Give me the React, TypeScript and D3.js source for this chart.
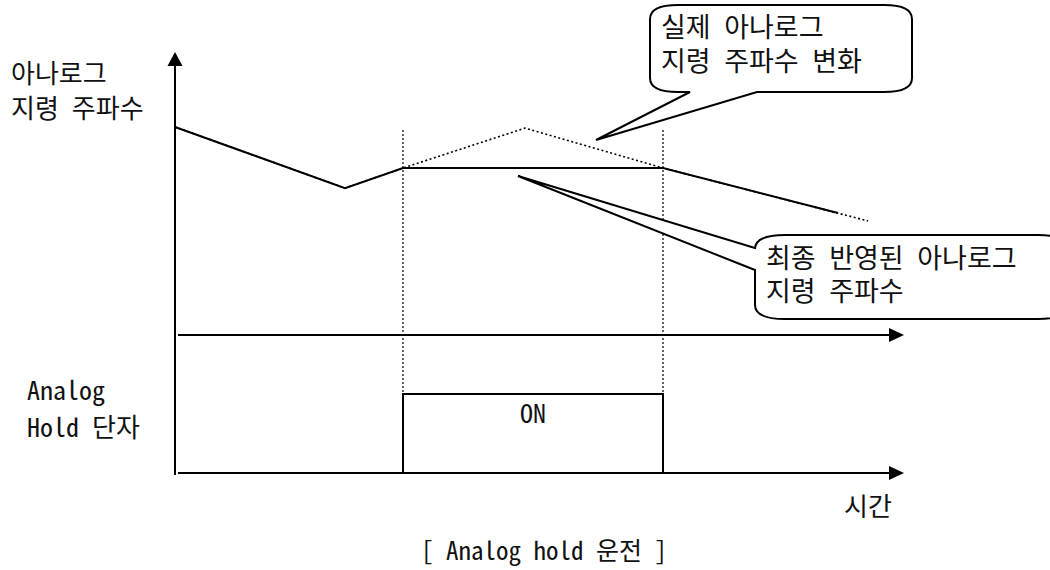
import React from 'react';
import * as d3 from 'd3';

// time axis and the two frequency traces
const finalTime = [0, 170, 228, 488, 663];
const finalFreq = [73.5, 51.9, 59.0, 59.0, 43.1];
const actualTime = [0, 170, 228, 350, 488, 693];
const actualFreq = [73.5, 51.9, 59.0, 73.1, 59.0, 40.3];
const holdOn = [228, 488];
const holdMarkers = [228, 488];

const freqLabel = ['아나로그', '지령 주파수'];
const holdLabel = ['Analog', 'Hold 단자'];
const callout1Text = ['실제 아나로그', '지령 주파수 변화'];
const callout2Text = ['최종 반영된 아나로그', '지령 주파수'];
const onText = 'ON';
const timeLabel = '시간';
const caption = '[ Analog hold 운전 ]';

const W = 1050;
const H = 570;
const FONT = "'Noto Sans Mono CJK KR', 'Noto Sans CJK KR', sans-serif";

export default function App() {
  const x = d3.scaleLinear().domain([0, 730]).range([175, 905]);
  const yF = d3.scaleLinear().domain([0, 100]).range([335, 52]);
  const yH = d3.scaleLinear().domain([0, 1]).range([473, 394]);

  const line = d3.line<[number, number]>()
    .x(d => x(d[0]))
    .y(d => yF(d[1]));

  const finalPts = finalTime.map((t, i) => [t, finalFreq[i]] as [number, number]);
  const actualPts = actualTime.map((t, i) => [t, actualFreq[i]] as [number, number]);

  const axisX = x(0);
  const yTop = 52;
  const midY = yF(0);
  const botY = yH(0);
  const tipX = 904;

  const callout1 = 'M 678,5 H 884 Q 912,5 912,19 V 78 Q 912,92 884,92 H 757 L 596,140 L 690,92 H 678 Q 650,92 650,78 V 19 Q 650,5 678,5 Z';
  const callout2 = 'M 785,235 H 1038 Q 1068,235 1068,249 V 305 Q 1068,319 1038,319 H 785 Q 755,319 755,305 V 270 L 518,176 L 755,248 V 249 Q 755,235 785,235 Z';

  return (
    <svg width={W} height={H} style={{ position: 'absolute', left: 0, top: 0, background: '#fff' }}
      fontFamily={FONT} fill="#111">
      {/* hold markers */}
      {holdMarkers.map((t, i) => (
        <line key={i} x1={x(t)} x2={x(t)} y1={130} y2={yH(1)} stroke="#000" strokeWidth={1.2}
          strokeDasharray="2,2" />
      ))}

      {/* actual reference (dotted) */}
      <path d={line(actualPts) || ''} fill="none" stroke="#000" strokeWidth={1.6} strokeDasharray="2,2.5" />
      {/* final reference (solid) */}
      <path d={line(finalPts) || ''} fill="none" stroke="#000" strokeWidth={2} />

      {/* y axis */}
      <line x1={axisX} x2={axisX} y1={yTop + 12} y2={botY + 2} stroke="#000" strokeWidth={2} />
      <path d={`M ${axisX},${yTop} L ${axisX + 7.5},${yTop + 14} L ${axisX - 7.5},${yTop + 14} Z`} fill="#000" />

      {/* horizontal axes */}
      {[midY, botY].map((yy, i) => (
        <g key={i}>
          <line x1={axisX + 3} x2={tipX - 12} y1={yy} y2={yy} stroke="#000" strokeWidth={2} />
          <path d={`M ${tipX},${yy} L ${tipX - 15},${yy - 7} L ${tipX - 15},${yy + 7} Z`} fill="#000" />
        </g>
      ))}

      {/* hold signal */}
      <rect x={x(holdOn[0])} y={yH(1)} width={x(holdOn[1]) - x(holdOn[0])} height={yH(0) - yH(1)}
        fill="none" stroke="#000" strokeWidth={2} />
      <text x={(x(holdOn[0]) + x(holdOn[1])) / 2} y={423} textAnchor="middle" fontSize={26}>{onText}</text>

      {/* callouts */}
      <path d={callout1} fill="#fff" stroke="#000" strokeWidth={2} strokeLinejoin="miter" />
      <path d={callout2} fill="#fff" stroke="#000" strokeWidth={2} strokeLinejoin="miter" />
      {callout1Text.map((s, i) => (
        <text key={i} x={661} y={37 + i * 34} fontSize={27} xmlSpace="preserve">{s}</text>
      ))}
      {callout2Text.map((s, i) => (
        <text key={i} x={766} y={268 + i * 33} fontSize={27} xmlSpace="preserve">{s}</text>
      ))}

      {/* labels */}
      {freqLabel.map((s, i) => (
        <text key={i} x={11} y={83 + i * 35} fontSize={26} xmlSpace="preserve">{s}</text>
      ))}
      {holdLabel.map((s, i) => (
        <text key={i} x={27} y={400 + i * 37} fontSize={26} xmlSpace="preserve">{s}</text>
      ))}
      <text x={844} y={516} fontSize={26}>{timeLabel}</text>
      <text x={421} y={560} fontSize={25} xmlSpace="preserve">{caption}</text>
    </svg>
  );
}
